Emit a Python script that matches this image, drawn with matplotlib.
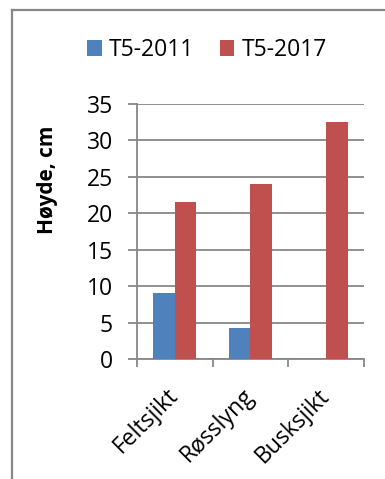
import matplotlib
matplotlib.use("Agg")
import matplotlib.pyplot as plt
from matplotlib.lines import Line2D
import numpy as np

plt.rcParams['font.family'] = ['Open Sans', 'DejaVu Sans']

categories = ["Feltsjikt", "Røsslyng", "Busksjikt"]
series_names = ["T5-2011", "T5-2017"]
t5_2011 = [9.0, 4.2, 0.0]
t5_2017 = [21.5, 24.0, 32.5]
y_ticks = [0, 5, 10, 15, 20, 25, 30, 35]

blue = "#4F81BD"
red = "#C0504D"
grid_gray = "#878787"

W, H = 385, 479
fig = plt.figure(figsize=(W / 100, H / 100), dpi=100)
ax = fig.add_axes([137 / W, 1 - 359 / H, (364 - 137) / W, (359 - 104) / H])

x = np.arange(len(categories))
bw = 1 / 3.5  # Excel gap width 150%
b1 = ax.bar(x - bw / 2, t5_2011, bw, color=blue, label=series_names[0], zorder=3)
b2 = ax.bar(x + bw / 2, t5_2017, bw, color=red, label=series_names[1], zorder=3)

ax.set_xlim(-0.5, len(categories) - 0.5)
ax.set_ylim(0, 35)
ax.set_yticks(y_ticks)
ax.yaxis.grid(True, color=grid_gray, linewidth=1.3, zorder=0)
ax.set_axisbelow(True)

for s in ["top", "right"]:
    ax.spines[s].set_visible(False)
for s in ["left", "bottom"]:
    ax.spines[s].set_color(grid_gray)
    ax.spines[s].set_linewidth(1.3)

ax.tick_params(axis="y", direction="out", length=6.5, width=1.3, color=grid_gray,
               labelsize=16.5, pad=11)
# category labels at centers, tick marks at the boundaries
ax.set_xticks(x)
ax.set_xticklabels(categories, rotation=45, ha="right", va="center",
                   rotation_mode="anchor", fontsize=16.5)
ax.tick_params(axis="x", which="major", length=0, pad=24)
ax.set_xticks(np.arange(len(categories) + 1) - 0.5, minor=True)
ax.tick_params(axis="x", which="minor", direction="out", length=6, width=1.3,
               color=grid_gray)

fig.text(48 / W, 1 - 180 / H, "Høyde, cm", rotation=90, ha="center", va="center",
         fontsize=15, fontweight="bold")

fig.legend(handles=[b1, b2], loc="center", bbox_to_anchor=(207 / W, 1 - 50 / H),
           ncol=2, frameon=False, fontsize=16.5, handlelength=0.65,
           handleheight=0.65, handletextpad=0.3, columnspacing=1.1)

# chart area border (left and top edges)
fig.add_artist(Line2D([12 / W, 12 / W], [0, 1 - 10 / H], color=grid_gray, lw=1.6))
fig.add_artist(Line2D([12 / W, 1], [1 - 10 / H, 1 - 10 / H], color=grid_gray, lw=1.6))

fig.savefig("out.png", dpi=100, facecolor="white")
